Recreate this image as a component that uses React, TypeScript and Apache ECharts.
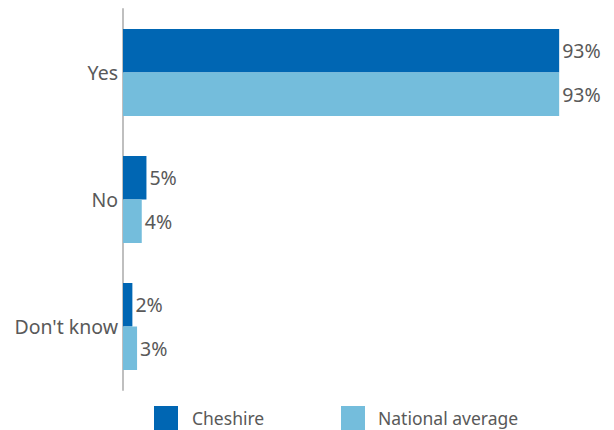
import React, { useEffect, useRef } from "react";
import * as echarts from "echarts";

const categories = ["Yes", "No", "Don't know"];
const cheshire = [93, 5, 2];
const national = [93, 4, 3];
const seriesNames = ["Cheshire", "National average"];

const FONT = "'Noto Sans', sans-serif";
const TEXT = "#595959";
const FS = 19.5;
const LEGEND_FS = 17.5;

export default function App() {
  const ref = useRef<HTMLDivElement>(null);
  useEffect(() => {
    if (!ref.current) return;
    const chart = echarts.init(ref.current, null, { renderer: "svg" });
    const label = {
      show: true,
      position: "right",
      distance: 3,
      color: TEXT,
      fontSize: FS,
      fontFamily: FONT,
      formatter: (p: any) => p.value + "%",
    };
    const legendBase = {
      top: 406,
      padding: 0,
      itemWidth: 24,
      itemHeight: 24,
      icon: "rect",
    };
    chart.setOption({
      animation: false,
      grid: { left: 123, right: 22, top: 9, bottom: 40, containLabel: false },
      xAxis: { type: "value", min: 0, max: 100, show: false },
      yAxis: {
        type: "category",
        data: categories,
        inverse: true,
        axisLine: { show: true, lineStyle: { color: "#bfbfbf", width: 2 } },
        axisTick: { show: false },
        axisLabel: { color: TEXT, fontSize: FS, fontFamily: FONT, margin: 5 },
      },
      legend: [
        {
          ...legendBase,
          data: [seriesNames[0]],
          left: 154,
          textStyle: { color: TEXT, fontSize: LEGEND_FS, fontFamily: FONT, padding: [0, 0, 0, 9] },
        },
        {
          ...legendBase,
          data: [seriesNames[1]],
          left: 341,
          textStyle: { color: TEXT, fontSize: LEGEND_FS, fontFamily: FONT, padding: [0, 0, 0, 8] },
        },
      ],
      series: [
        {
          name: seriesNames[0],
          type: "bar",
          data: cheshire,
          itemStyle: { color: "#0066b3" },
          barGap: "0%",
          barCategoryGap: "31.5%",
          label,
        },
        {
          name: seriesNames[1],
          type: "bar",
          data: national,
          itemStyle: { color: "#74bddc" },
          barGap: "0%",
          barCategoryGap: "31.5%",
          label,
        },
      ],
    });
    return () => chart.dispose();
  }, []);
  return (
    <div
      ref={ref}
      style={{ position: "absolute", left: 0, top: 0, width: 614, height: 430, overflow: "hidden" }}
    />
  );
}
